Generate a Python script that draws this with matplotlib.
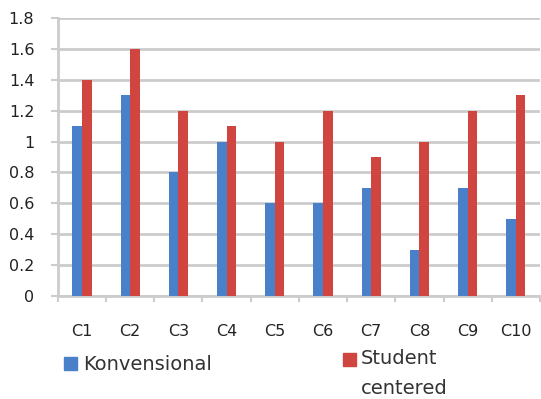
import numpy as np
import matplotlib.pyplot as plt
from matplotlib.patches import Rectangle

categories = ['C1', 'C2', 'C3', 'C4', 'C5', 'C6', 'C7', 'C8', 'C9', 'C10']
konvensional = [1.1, 1.3, 0.8, 1.0, 0.6, 0.6, 0.7, 0.3, 0.7, 0.5]
student = [1.4, 1.6, 1.2, 1.1, 1.0, 1.2, 0.9, 1.0, 1.2, 1.3]
yticks = [0, 0.2, 0.4, 0.6, 0.8, 1, 1.2, 1.4, 1.6, 1.8]
ytick_labels = ['0', '0.2', '0.4', '0.6', '0.8', '1', '1.2', '1.4', '1.6', '1.8']

blue = '#4a7fc9'
red = '#d04540'
grid = '#cccccc'

fig = plt.figure(figsize=(5.41, 3.99), dpi=100)
ax = fig.add_axes([0.107, 0.258, 0.891, 0.697])

x = np.arange(len(categories))
w = 0.2
ax.bar(x - w / 2, konvensional, w, color=blue, zorder=3)
ax.bar(x + w / 2, student, w, color=red, zorder=3)

ax.set_xlim(-0.5, len(categories) - 0.5)
ax.set_ylim(0, 1.8)
ax.set_yticks(yticks)
ax.set_yticklabels(ytick_labels)
ax.yaxis.grid(True, color=grid, linewidth=2, zorder=0)
ax.set_axisbelow(True)

ax.set_xticks(x)
ax.set_xticklabels(categories)
ax.set_xticks(np.arange(len(categories) + 1) - 0.5, minor=True)
ax.tick_params(axis='x', which='major', length=0, pad=20, labelsize=11.5, colors='#222222')
ax.tick_params(axis='x', which='minor', length=4, width=1.5, color=grid)
ax.tick_params(axis='y', length=5, width=1.5, color=grid, labelsize=11.5, labelcolor='#222222', pad=12)

for side in ['top', 'right']:
    ax.spines[side].set_visible(False)
ax.spines['left'].set_color(grid)
ax.spines['left'].set_linewidth(2)
ax.spines['bottom'].set_color(grid)
ax.spines['bottom'].set_linewidth(2)

# legend below the plot
fig.patches.append(Rectangle((64 / 541, 1 - 370 / 399), 13 / 541, 13 / 399,
                             transform=fig.transFigure, color=blue))
fig.text(83 / 541, 1 - 365 / 399, 'Konvensional', fontsize=14, color='#333333', va='center')
fig.patches.append(Rectangle((343 / 541, 1 - 366 / 399), 13 / 541, 13 / 399,
                             transform=fig.transFigure, color=red))
fig.text(361 / 541, 1 - 359 / 399, 'Student', fontsize=14, color='#333333', va='center')
fig.text(361 / 541, 1 - 388 / 399, 'centered', fontsize=14, color='#333333', va='center')

fig.savefig('out.png', dpi=100)
